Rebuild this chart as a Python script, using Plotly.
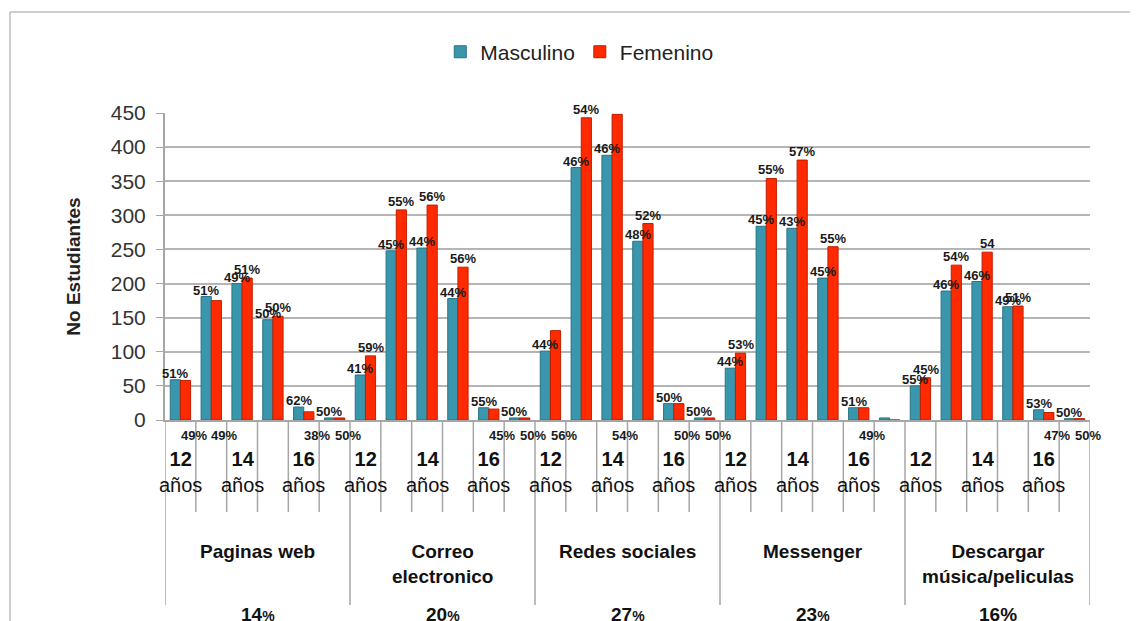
import plotly.graph_objects as go

# categorias
grupos = ["Paginas web", "Correo<br>electronico", "Redes sociales", "Messenger",
          "Descargar<br>música/peliculas"]
grupo_pct = ["14<span style='font-size:14px'>%</span>", "20<span style='font-size:14px'>%</span>",
             "27<span style='font-size:14px'>%</span>", "23<span style='font-size:14px'>%</span>", "16%"]
edades = ["12", "13", "14", "15", "16", "17"]
edades_visibles = ["12", "14", "16"]

# numero de estudiantes por grupo (edades 12..17)
masc_paginas = [59, 181, 200, 147, 19, 3]
masc_correo = [66, 248, 252, 178, 18, 3]
masc_redes = [101, 370, 388, 262, 24, 3]
masc_messenger = [76, 284, 281, 208, 18, 3]
masc_descargar = [50, 189, 203, 166, 15, 2]

fem_paginas = [58, 175, 208, 152, 12, 3]
fem_correo = [94, 308, 315, 224, 16, 3]
fem_redes = [131, 443, 448, 288, 24, 3]
fem_messenger = [98, 354, 381, 254, 18, 0]
fem_descargar = [62, 227, 246, 167, 11, 2]

# etiquetas de porcentaje
pct_masc = [
    ["51%", "51%", "49%", "50%", "62%", "50%"],
    ["41%", "45%", "44%", "44%", "55%", "50%"],
    ["44%", "46%", "46%", "48%", "50%", "50%"],
    ["44%", "45%", "43%", "45%", "51%", ""],
    ["55%", "46%", "46%", "49%", "53%", "50%"],
]
pct_fem = [
    ["49%", "49%", "51%", "50%", "38%", "50%"],
    ["59%", "55%", "56%", "56%", "45%", "50%"],
    ["56%", "54%", "54%", "52%", "50%", "50%"],
    ["53%", "55%", "57%", "55%", "49%", ""],
    ["45%", "54%", "54", "51%", "47%", "50%"],
]
# 1 = etiqueta femenina dibujada bajo el eje
fem_abajo = [
    [1, 1, 0, 0, 1, 1],
    [0, 0, 0, 0, 1, 1],
    [1, 0, 1, 0, 1, 1],
    [0, 0, 0, 0, 1, 0],
    [0, 0, 0, 0, 1, 1],
]

masc = masc_paginas + masc_correo + masc_redes + masc_messenger + masc_descargar
fem = fem_paginas + fem_correo + fem_redes + fem_messenger + fem_descargar
n_ed = len(edades)
xs = [g * n_ed + e for g in range(len(grupos)) for e in range(n_ed)]

TEAL = "#3996AD"
RED = "#FF2A00"
FONT = "Liberation Sans"
LBL = dict(size=13, color="#1a1a1a", family=FONT)

fig = go.Figure()
fig.add_trace(go.Bar(x=xs, y=masc, name="Masculino", marker=dict(color=TEAL, line=dict(color="#2a7385", width=1))))
fig.add_trace(go.Bar(x=xs, y=fem, name="Femenino", marker=dict(color=RED, line=dict(color="#c01e00", width=1))))

PLOT_H = 307
ann = []
off = 0.17  # media separacion entre barras del par
for g in range(len(grupos)):
    for e in range(n_ed):
        i = g * n_ed + e
        if pct_masc[g][e]:
            ann.append(dict(x=xs[i] - off, y=masc[i], xref="x", yref="y", text=f"<b>{pct_masc[g][e]}</b>",
                            showarrow=False, yanchor="bottom", yshift=-3, font=LBL))
        if pct_fem[g][e]:
            if fem_abajo[g][e]:
                ann.append(dict(x=xs[i] + off, y=-15 / PLOT_H, xref="x", yref="paper",
                                text=f"<b>{pct_fem[g][e]}</b>", showarrow=False, yanchor="middle",
                                xshift=8, font=LBL))
            else:
                ann.append(dict(x=xs[i] + off, y=fem[i], xref="x", yref="y", text=f"<b>{pct_fem[g][e]}</b>",
                                showarrow=False, yanchor="bottom", yshift=-1, font=LBL))

# etiquetas de edad, grupo y porcentaje de grupo
for g in range(len(grupos)):
    for e, ed in enumerate(edades):
        if ed in edades_visibles:
            ann.append(dict(x=g * n_ed + e, y=-26 / PLOT_H, xref="x", yref="paper",
                            text=f"<b>{ed}</b><br>años", showarrow=False, yanchor="top",
                            font=dict(size=20, color="#111", family=FONT)))
    centro = g * n_ed + (n_ed - 1) / 2
    ann.append(dict(x=centro, y=-119 / PLOT_H, xref="x", yref="paper", text=f"<b>{grupos[g]}</b>",
                    showarrow=False, yanchor="top", font=dict(size=19, color="#111", family=FONT)))
    ann.append(dict(x=centro, y=-182 / PLOT_H, xref="x", yref="paper", text=f"<b>{grupo_pct[g]}</b>",
                    showarrow=False, yanchor="top", font=dict(size=19, color="#111", family=FONT)))

shapes = []
for k in range(len(xs) + 1):
    largo = 185 if k % n_ed == 0 else 92
    shapes.append(dict(type="line", xref="x", yref="paper", x0=k - 0.5, x1=k - 0.5, y0=0,
                       y1=-largo / PLOT_H, line=dict(color="#a6a6a6", width=1.5)))
# borde del grafico
shapes.append(dict(type="line", xref="paper", yref="paper", x0=-155 / 925, x1=1.1, y0=408 / PLOT_H,
                   y1=408 / PLOT_H, line=dict(color="#bdbdbd", width=1.5)))
shapes.append(dict(type="line", xref="paper", yref="paper", x0=-155 / 925, x1=-155 / 925, y0=408 / PLOT_H,
                   y1=-0.7, line=dict(color="#bdbdbd", width=1.5)))

fig.update_layout(
    width=1138, height=621,
    margin=dict(l=157, r=56, t=105, b=209),
    paper_bgcolor="white", plot_bgcolor="white",
    barmode="group", bargap=0.34, bargroupgap=0,
    font=dict(family=FONT, color="#222"),
    legend=dict(orientation="h", xref="container", yref="container", x=0.502, y=0.929,
                xanchor="center", yanchor="middle", font=dict(size=21, family=FONT, color="#222"),
                itemwidth=30, traceorder="normal"),
    annotations=ann, shapes=shapes,
    xaxis=dict(range=[-0.5, len(xs) - 0.5], showticklabels=False, showgrid=False, zeroline=False,
               showline=True, linecolor="#a6a6a6", linewidth=2),
    yaxis=dict(range=[0, 450], dtick=50, showgrid=True, gridcolor="#b5b5b5", gridwidth=2,
               zeroline=False, showline=True, linecolor="#a6a6a6", linewidth=2,
               ticks="outside", ticklen=7, tickcolor="#a6a6a6", ticklabelstandoff=6,
               tickfont=dict(size=21, color="#333", family=FONT),
               title=dict(text="<b>No Estudiantes</b>", font=dict(size=19, color="#222", family=FONT), standoff=25)),
)

fig.write_html("out.html")
